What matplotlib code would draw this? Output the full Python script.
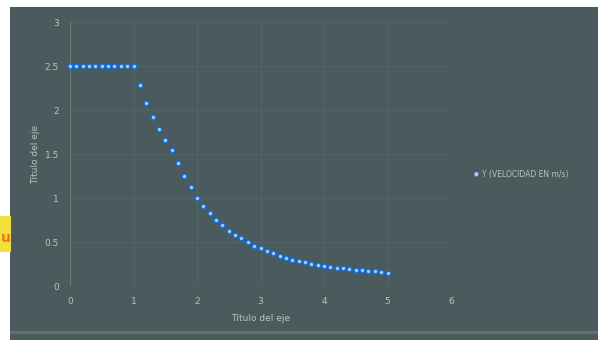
import matplotlib
matplotlib.use("Agg")
import matplotlib.pyplot as plt
from matplotlib.patches import Rectangle

x_vals = [0.0, 0.1, 0.2, 0.3, 0.4, 0.5, 0.6, 0.7, 0.8, 0.9, 1.0,
          1.1, 1.2, 1.3, 1.4, 1.5, 1.6, 1.7, 1.8, 1.9, 2.0,
          2.1, 2.2, 2.3, 2.4, 2.5, 2.6, 2.7, 2.8, 2.9, 3.0,
          3.1, 3.2, 3.3, 3.4, 3.5, 3.6, 3.7, 3.8, 3.9, 4.0,
          4.1, 4.2, 4.3, 4.4, 4.5, 4.6, 4.7, 4.8, 4.9, 5.0]
y_vals = [2.5, 2.5, 2.5, 2.5, 2.5, 2.5, 2.5, 2.5, 2.5, 2.5, 2.5,
          2.28, 2.08, 1.92, 1.78, 1.66, 1.55, 1.40, 1.25, 1.12, 1.00,
          0.91, 0.83, 0.75, 0.69, 0.63, 0.58, 0.54, 0.50, 0.46, 0.43,
          0.40, 0.37, 0.34, 0.32, 0.30, 0.28, 0.27, 0.25, 0.24, 0.23,
          0.22, 0.21, 0.20, 0.19, 0.18, 0.18, 0.17, 0.17, 0.16, 0.15]
x_ticks = [0, 1, 2, 3, 4, 5, 6]
y_ticks = [0, 0.5, 1, 1.5, 2, 2.5, 3]
y_tick_labels = ["0", "0.5", "1", "1.5", "2", "2.5", "3"]
series_name = "Y (VELOCIDAD EN m/s)"
axis_title = "Título del eje"

bg = "#4b5a5c"
txt = "#b9c2c2"

fig = plt.figure(figsize=(6.01, 3.44), dpi=100)
fig.patch.set_facecolor("white")
fig.patches.append(Rectangle((10/601, 1-340/344), 588/601, 333/344,
                             transform=fig.transFigure, facecolor=bg,
                             edgecolor="none", zorder=-10))
# light band near bottom
fig.patches.append(Rectangle((10/601, 1-334/344), 588/601, 3/344,
                             transform=fig.transFigure, facecolor="#607070",
                             edgecolor="none", zorder=-9))
# yellow scrap at left edge
fig.patches.append(Rectangle((0, 1-252/344), 11/601, 36/344,
                             transform=fig.transFigure, facecolor="#f3df3c",
                             edgecolor="none", zorder=-9))
fig.text(1/601, 1-238/344, "u", color="#e8761e", fontsize=10,
         fontweight="bold", va="center", ha="left")

ax = fig.add_axes([70/601, 1-286/344, 381/601, 264/344])
ax.set_zorder(1)
ax.set_facecolor(bg)
ax.set_xlim(0, 6)
ax.set_ylim(0, 3)
ax.set_xticks(x_ticks)
ax.set_yticks(y_ticks)
ax.set_yticklabels(y_tick_labels)
ax.grid(True, color="#566668", linewidth=0.6)
ax.set_axisbelow(True)
for s in ax.spines.values():
    s.set_visible(False)
ax.axvline(0, color="#6b7a7b", linewidth=0.8)
ax.tick_params(colors=txt, labelsize=6.5, length=0, pad=8)

ax.scatter(x_vals, y_vals, s=15, color="#2383e6", edgecolors="#1b66c4",
           linewidths=0.6, zorder=3, label=series_name, clip_on=False)
ax.scatter(x_vals, y_vals, s=1.5, color="#9fd0ff", zorder=4, clip_on=False)

ax.set_xlabel(axis_title, color=txt, fontsize=6.5, labelpad=6)
ax.set_ylabel(axis_title, color=txt, fontsize=6.5, labelpad=3)

fig.text(474/601, 1-174/344, "\u25cf", color="#9fd0ff", fontsize=4,
         va="center", ha="left")
fig.text(482/601, 1-174/344, series_name, color=txt, fontsize=5.5,
         va="center", ha="left")

fig.savefig("out.png", dpi=100, facecolor=fig.get_facecolor())
